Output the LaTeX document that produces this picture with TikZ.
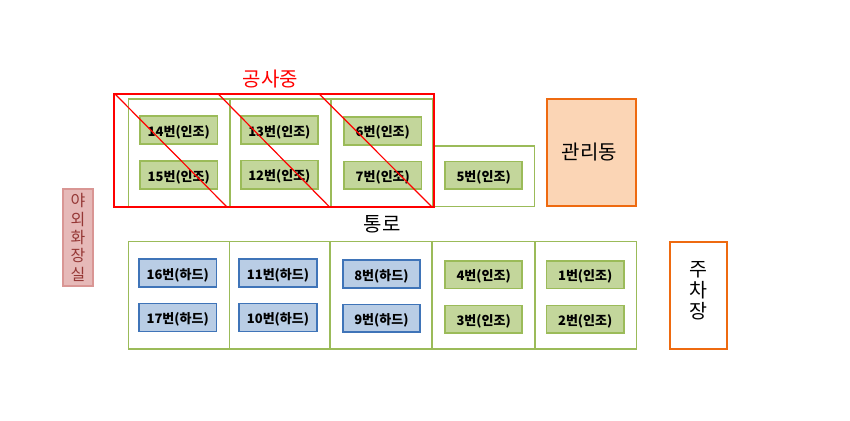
\documentclass[tikz,border=0pt]{standalone}
\usepackage{fontspec}
\setmainfont{Noto Sans CJK KR}
\definecolor{cellgreen}{HTML}{9BBB59}
\definecolor{boxgreen}{HTML}{C3D69B}
\definecolor{boxblue}{HTML}{B9CDE5}
\definecolor{edgeblue}{HTML}{3F74B8}
\definecolor{orangeedge}{HTML}{EE6A10}
\definecolor{peach}{HTML}{FBD5B5}
\definecolor{pinkfill}{HTML}{E6B9B8}
\definecolor{pinkedge}{HTML}{D99694}
\definecolor{pinktext}{HTML}{953735}
\tikzset{
  rectbase/.style={rectangle,inner sep=0pt,outer sep=0pt,align=center},
  cellbox/.style={rectbase,draw=cellgreen,line width=1.5pt},
  humanbox/.style={rectbase,draw=cellgreen,fill=boxgreen,line width=1.8pt,font=\fontsize{13}{15}\selectfont\bfseries,text=black},
  hardbox/.style={rectbase,draw=edgeblue,fill=boxblue,line width=1.8pt,font=\fontsize{13}{15}\selectfont\bfseries,text=black},
  officebox/.style={rectbase,draw=orangeedge,fill=peach,line width=1.6pt,font=\fontsize{20}{24}\selectfont},
  parkbox/.style={rectbase,draw=orangeedge,fill=white,line width=1.6pt},
  parktext/.style={align=center,inner sep=0pt,font=\fontsize{19.5}{21}\selectfont},
  toiletbox/.style={rectbase,draw=pinkedge,fill=pinkfill,line width=1.4pt,text=pinktext,font=\fontsize{16}{18.3}\selectfont},
  worktext/.style={text=red,font=\fontsize{20}{24}\selectfont,inner sep=0pt},
  pathtext/.style={font=\fontsize{20}{24}\selectfont,inner sep=0pt},
  redframe/.style={rectbase,draw=red,line width=2pt},
  diag/.style={draw=red,line width=1.2pt}
}
% name, style, x0, y0, x1, y1, text  (coordinates are outer edges of the stroke)
\newcommand{\bx}[7]{\node[#2,minimum width={(#5-#3-1.5)*1pt},minimum height={(#6-#4-1.5)*1pt}] (#1) at ({(#3+#5)/2},{(#4+#6)/2}) {#7};}
\newcommand{\lb}[1]{\raisebox{-2pt}[\height][\depth]{#1}}
\begin{document}
\begin{tikzpicture}[x=1pt,y=-1pt]
\useasboundingbox (0,0) rectangle (850,420);
% upper cells
\bx{c14}{cellbox}{127.6}{98}{230.7}{207.2}{}
\bx{c13}{cellbox}{229.3}{98}{331.7}{207.2}{}
\bx{c6}{cellbox}{330.3}{98}{433.4}{207.2}{}
\bx{c5}{cellbox}{432}{145}{535}{207.2}{}
% lower cells
\bx{c16}{cellbox}{127.6}{240.8}{230}{349.7}{}
\bx{c11}{cellbox}{228.6}{240.8}{330.7}{349.7}{}
\bx{c8}{cellbox}{329.3}{240.8}{432.7}{349.7}{}
\bx{c4}{cellbox}{431.3}{240.8}{535.4}{349.7}{}
\bx{c1}{cellbox}{534}{240.8}{637}{349.7}{}
% upper boxes
\bx{b14}{humanbox}{139.3}{115.5}{218.3}{144.7}{\lb{14번(인조)}}
\bx{b15}{humanbox}{139.3}{160}{218.3}{189.7}{\lb{15번(인조)}}
\bx{b13}{humanbox}{240}{115.5}{318.7}{144.7}{\lb{13번(인조)}}
\bx{b12}{humanbox}{240}{159.7}{318.7}{189.7}{\lb{12번(인조)}}
\bx{b6}{humanbox}{343.3}{116}{422.3}{145.7}{\lb{6번(인조)}}
\bx{b7}{humanbox}{343.3}{160.7}{422.3}{190}{\lb{7번(인조)}}
\bx{b5}{humanbox}{444.3}{160.7}{523}{190}{\lb{5번(인조)}}
% lower boxes
\bx{b16}{hardbox}{138}{258.5}{217.3}{287.7}{\lb{16번(하드)}}
\bx{b17}{hardbox}{138}{302.7}{217.3}{332.3}{\lb{17번(하드)}}
\bx{b11}{hardbox}{238.3}{258.5}{317.7}{287.7}{\lb{11번(하드)}}
\bx{b10}{hardbox}{238.3}{302.7}{317.7}{332.3}{\lb{10번(하드)}}
\bx{b8}{hardbox}{342}{259}{420.7}{288.7}{\lb{8번(하드)}}
\bx{b9}{hardbox}{342}{303.7}{420.7}{333}{\lb{9번(하드)}}
\bx{b4}{humanbox}{444.3}{260.3}{523}{289.3}{\lb{4번(인조)}}
\bx{b3}{humanbox}{444.3}{304.7}{523}{334}{\lb{3번(인조)}}
\bx{b1}{humanbox}{545.7}{260.3}{624.7}{289.3}{\lb{1번(인조)}}
\bx{b2}{humanbox}{545.7}{304.7}{624.7}{334}{\lb{2번(인조)}}
% side buildings
\bx{office}{officebox}{546}{98}{637}{207}{\hspace{-4pt}관리동}
\bx{park}{parkbox}{669.3}{241}{728}{349.7}{}
\node[parktext] (parklabel) at (698.5,290.5) {주\\차\\장};
\bx{toilet}{toiletbox}{62.2}{188.2}{93.8}{286.8}{야\\외\\화\\장\\실}
% labels
\node[worktext] (work) at (270.2,79) {공사중};
\node[pathtext] (way) at (382,224) {통로};
% construction frame and strike-through lines
\bx{frame}{redframe}{113.5}{93.5}{435}{208}{}
\coordinate (d1a) at (115,94);   \coordinate (d1b) at (226.7,206.7);
\coordinate (d2a) at (218.3,94); \coordinate (d2b) at (329.3,206.7);
\coordinate (d3a) at (319.3,94); \coordinate (d3b) at (431.7,206.7);
\draw[diag] (d1a) -- (d1b);
\draw[diag] (d2a) -- (d2b);
\draw[diag] (d3a) -- (d3b);
\end{tikzpicture}
\end{document}
